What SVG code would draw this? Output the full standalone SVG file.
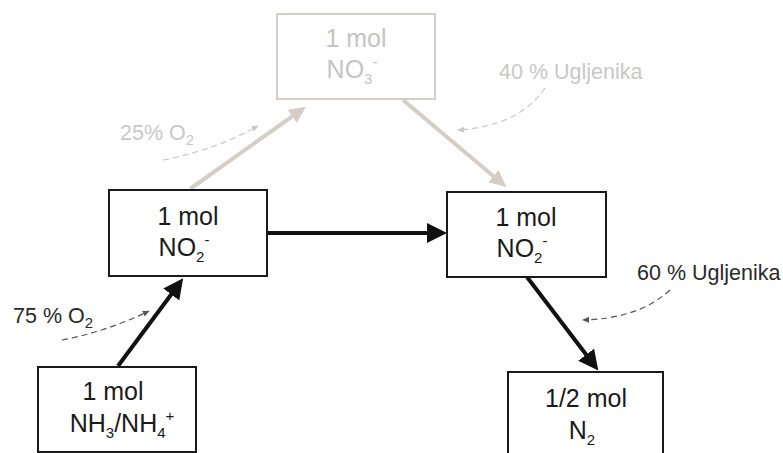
<svg xmlns="http://www.w3.org/2000/svg" width="783" height="453" viewBox="0 0 783 453">
<style>
.box{fill:#fff;stroke:#1a1a1a;stroke-width:2}
.gbox{fill:#fff;stroke:#d5cec7;stroke-width:2}
.t{font-family:"Liberation Sans",Arial,sans-serif;font-size:25px;fill:#1a1a1a;text-anchor:middle}
.gt{font-family:"Liberation Sans",Arial,sans-serif;font-size:25px;fill:#c4c4c4;text-anchor:middle}
.lbl{font-family:"Liberation Sans",Arial,sans-serif;font-size:21.5px;fill:#2a2a2a}
.glbl{font-family:"Liberation Sans",Arial,sans-serif;font-size:21.5px;fill:#c8c8c8}
.sub{font-size:15px}
.ar{stroke:#111;stroke-width:4;fill:none}
.gar{stroke:#d5cec7;stroke-width:4;fill:none}
.d{stroke:#555;stroke-width:1.2;stroke-dasharray:6,4;fill:none}
.gd{stroke:#c8c8c8;stroke-width:1.2;stroke-dasharray:6,4;fill:none}
</style>
<defs>
<marker id="ha" markerUnits="userSpaceOnUse" markerWidth="22" markerHeight="22" refX="8" refY="10" orient="auto"><path d="M0,0 L20,10 L0,20 z" fill="#111"/></marker>
<marker id="hg" markerUnits="userSpaceOnUse" markerWidth="20" markerHeight="18" refX="6" refY="8" orient="auto"><path d="M0,0 L17,8 L0,16 z" fill="#d5cec7"/></marker>
<marker id="hs" markerUnits="userSpaceOnUse" markerWidth="8" markerHeight="8" refX="4" refY="3" orient="auto"><path d="M0,0 L7,3 L0,6 z" fill="#555"/></marker>
<marker id="hsg" markerUnits="userSpaceOnUse" markerWidth="8" markerHeight="8" refX="4" refY="3" orient="auto"><path d="M0,0 L7,3 L0,6 z" fill="#c8c8c8"/></marker>
</defs>
<g id="connectors">
<line class="gar" x1="190" y1="189" x2="297" y2="113" marker-end="url(#hg)"/>
<line class="gar" x1="403" y1="100" x2="498" y2="180" marker-end="url(#hg)"/>
<line class="ar" x1="267" y1="233" x2="435" y2="233" marker-end="url(#ha)"/>
<line class="ar" x1="118" y1="366" x2="176" y2="288" marker-end="url(#ha)"/>
<line class="ar" x1="527" y1="277" x2="591" y2="361" marker-end="url(#ha)"/>
<path class="d" d="M62,340 Q105,332 147,312" marker-end="url(#hs)"/>
<path class="gd" d="M163,160 Q215,150 256,127" marker-end="url(#hsg)"/>
<path class="gd" d="M545,88 Q520,125 460,130" marker-end="url(#hsg)"/>
<path class="d" d="M670,290 Q640,318 585,320" marker-end="url(#hs)"/>
</g>
<g id="label-25">
<text class="glbl" x="120" y="140">25% O<tspan class="sub" dy="5">2</tspan></text>
</g>
<g id="label-40">
<text class="glbl" x="499" y="79">40 % Ugljenika</text>
</g>
<g id="label-75">
<text class="lbl" x="13" y="323">75 % O<tspan class="sub" dy="5">2</tspan></text>
</g>
<g id="label-60">
<text class="lbl" x="637" y="280">60 % Ugljenika</text>
</g>
<g id="node-no3">
<rect class="gbox" x="277" y="14" width="158" height="85"/>
<text class="gt" x="356" y="47">1 mol</text>
<text class="gt" x="352" y="78">NO<tspan class="sub" dy="6">3</tspan><tspan class="sub" dy="-17">-</tspan></text>
</g>
<g id="node-no2-left">
<rect class="box" x="109" y="190" width="158" height="86"/>
<text class="t" x="188" y="225">1 mol</text>
<text class="t" x="184" y="256">NO<tspan class="sub" dy="6">2</tspan><tspan class="sub" dy="-17">-</tspan></text>
</g>
<g id="node-no2-right">
<rect class="box" x="447" y="192" width="159" height="85"/>
<text class="t" x="526" y="226">1 mol</text>
<text class="t" x="522" y="257">NO<tspan class="sub" dy="6">2</tspan><tspan class="sub" dy="-17">-</tspan></text>
</g>
<g id="node-nh3">
<rect class="box" x="38" y="367" width="158" height="85"/>
<text class="t" x="113" y="400">1 mol</text>
<text class="t" x="122" y="432">NH<tspan class="sub" dy="6">3</tspan><tspan dy="-6">/NH</tspan><tspan class="sub" dy="6">4</tspan><tspan class="sub" dy="-17">+</tspan></text>
</g>
<g id="node-n2">
<rect class="box" x="508" y="372" width="155" height="90"/>
<text class="t" x="586" y="407">1/2 mol</text>
<text class="t" x="582" y="439">N<tspan class="sub" dy="6">2</tspan></text>
</g>
</svg>
